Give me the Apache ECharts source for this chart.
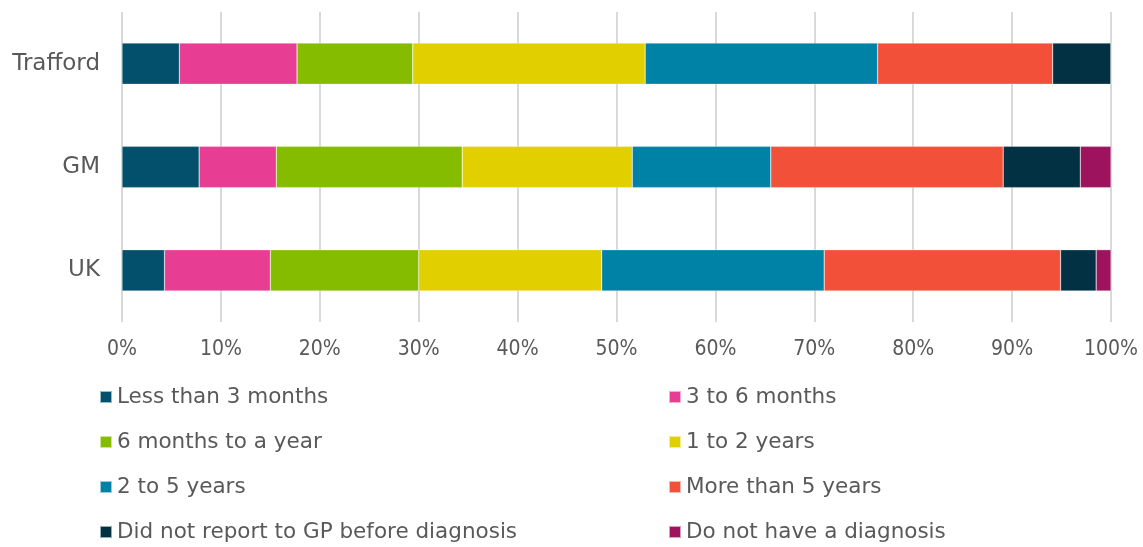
<!DOCTYPE html>
<html>
<head>
<meta charset="utf-8">
<script src="https://cdn.jsdelivr.net/npm/echarts@6/dist/echarts.min.js"></script>
<style>
  html, body { margin: 0; padding: 0; background: #fff; }
  #main { width: 1143px; height: 547px; }
</style>
</head>
<body>
<div id="main"></div>
<script>
var categories = ['Trafford', 'GM', 'UK']
var seriesNames = [
  'Less than 3 months', '3 to 6 months', '6 months to a year', '1 to 2 years',
  '2 to 5 years', 'More than 5 years', 'Did not report to GP before diagnosis', 'Do not have a diagnosis'
]
// percent values per category, one array per series (Trafford, GM, UK)
var lessThan3Months = [5.8, 7.8, 4.3]
var threeTo6Months = [11.9, 7.8, 10.7]
var sixMonthsToYear = [11.7, 18.8, 15.0]
var oneTo2Years = [23.5, 17.2, 18.5]
var twoTo5Years = [23.5, 14.0, 22.5]
var moreThan5Years = [17.7, 23.5, 23.9]
var didNotReport = [5.9, 7.8, 3.6]
var noDiagnosis = [0, 3.1, 1.5]
var xTicks = [0, 10, 20, 30, 40, 50, 60, 70, 80, 90, 100]

var seriesValues = [lessThan3Months, threeTo6Months, sixMonthsToYear, oneTo2Years,
  twoTo5Years, moreThan5Years, didNotReport, noDiagnosis]
var colors = ['#02506B', '#E73D93', '#86BC00', '#E2CF00', '#0081A6', '#F25039', '#013142', '#9D135E']

var font = 'DejaVu Sans'
var tickFont = 'DejaVu Sans Condensed'
var textColor = '#595959'

var legendStyle = {
  orient: 'vertical',
  top: 385,
  height: 200,
  padding: 0,
  itemGap: 21,
  itemWidth: 12,
  itemHeight: 12,
  icon: 'rect',
  textStyle: { fontFamily: font, fontSize: 21.5, lineHeight: 24, color: textColor, padding: 0 }
}

var chartDom = document.getElementById('main')
var myChart = echarts.init(chartDom)
var option

option = {
  animation: false,
  color: colors,
  textStyle: { fontFamily: font },
  grid: { left: 122, right: 32, top: 12, bottom: 225 },
  legend: [
    Object.assign({ left: 99, data: [seriesNames[0], seriesNames[2], seriesNames[4], seriesNames[6]] }, legendStyle),
    Object.assign({ left: 668, data: [seriesNames[1], seriesNames[3], seriesNames[5], seriesNames[7]] }, legendStyle)
  ],
  xAxis: {
    type: 'value',
    min: xTicks[0],
    max: xTicks[xTicks.length - 1],
    interval: 10,
    axisLine: { show: false },
    axisTick: { show: false },
    splitLine: { lineStyle: { color: '#D9D9D9', width: 2 } },
    axisLabel: {
      formatter: '{value}%',
      fontFamily: tickFont,
      fontSize: 21,
      color: textColor,
      margin: 17
    }
  },
  yAxis: {
    type: 'category',
    inverse: true,
    data: categories,
    axisLine: { show: false },
    axisTick: { show: false },
    axisLabel: { fontFamily: font, fontSize: 23, color: textColor, margin: 22 }
  },
  series: seriesNames.map(function (name, i) {
    return {
      name: name,
      type: 'bar',
      stack: 'total',
      barWidth: '40%',
      itemStyle: { borderColor: 'rgba(255,255,255,0.6)', borderWidth: 0.5 },
      data: seriesValues[i]
    }
  })
}

option && myChart.setOption(option)
</script>
</body>
</html>
